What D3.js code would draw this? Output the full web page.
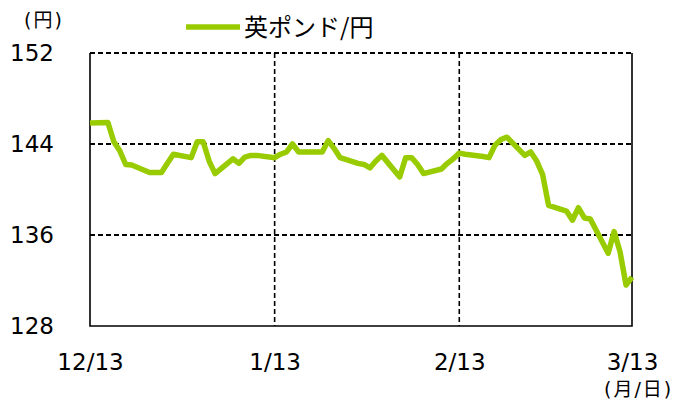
<!DOCTYPE html>
<html>
<head>
<meta charset="utf-8">
<script src="https://cdn.jsdelivr.net/npm/d3@7"></script>
<style>
  body { margin: 0; background: #fff; }
  svg text { font-family: "DejaVu Sans", Verdana, sans-serif; fill: #000; }
  .jp { font-family: "Noto Sans CJK JP", sans-serif; }
  .lat { font-family: "DejaVu Sans", sans-serif; }
</style>
</head>
<body>
<svg id="chart" width="690" height="400"></svg>
<script>
// Data: GBP/JPY daily close
const dates = [
  "2019-12-13","2019-12-16","2019-12-17","2019-12-18","2019-12-19","2019-12-20",
  "2019-12-23","2019-12-24","2019-12-25","2019-12-26","2019-12-27",
  "2019-12-30","2019-12-31","2020-01-01","2020-01-02","2020-01-03",
  "2020-01-06","2020-01-07","2020-01-08","2020-01-09","2020-01-10",
  "2020-01-13","2020-01-14","2020-01-15","2020-01-16","2020-01-17",
  "2020-01-20","2020-01-21","2020-01-22","2020-01-23","2020-01-24",
  "2020-01-27","2020-01-28","2020-01-29","2020-01-30","2020-01-31",
  "2020-02-03","2020-02-04","2020-02-05","2020-02-06","2020-02-07",
  "2020-02-10","2020-02-11","2020-02-12","2020-02-13","2020-02-14",
  "2020-02-17","2020-02-18","2020-02-19","2020-02-20","2020-02-21",
  "2020-02-24","2020-02-25","2020-02-26","2020-02-27","2020-02-28",
  "2020-03-02","2020-03-03","2020-03-04","2020-03-05","2020-03-06",
  "2020-03-09","2020-03-10","2020-03-11","2020-03-12","2020-03-13"
];
const gbpJpy = [
  145.85, 145.9, 144.2, 143.4, 142.2, 142.15,
  141.5, 141.5, 141.5, 142.3, 143.1,
  142.8, 144.2, 144.2, 142.5, 141.4,
  142.7, 142.3, 142.85, 143.0, 143.0,
  142.8, 143.1, 143.3, 144.0, 143.3,
  143.3, 143.3, 144.3, 143.6, 142.8,
  142.3, 142.2, 141.9, 142.5, 143.0,
  141.1, 142.8, 142.8, 142.2, 141.4,
  141.8, 142.3, 142.7, 143.2, 143.1,
  142.9, 142.8, 143.9, 144.4, 144.6,
  143.0, 143.3, 142.5, 141.3, 138.6,
  138.1, 137.3, 138.4, 137.5, 137.4,
  134.4, 136.3, 134.5, 131.6, 132.3
];
const yTicks = [128, 136, 144, 152];
const xTickDates = ["2019-12-13", "2020-01-13", "2020-02-13", "2020-03-13"];
const xTickLabels = ["12/13", "1/13", "2/13", "3/13"];
const seriesName = "英ポンド/円";

const parseDate = d3.timeParse("%Y-%m-%d");
const data = dates.map((d, i) => ({ date: parseDate(d), value: gbpJpy[i] }));

const svg = d3.select("#chart");
const margin = { left: 90, right: 58, top: 53, bottom: 74 };
const width = 690, height = 400;
const innerW = width - margin.left - margin.right;
const innerH = height - margin.top - margin.bottom;

const x = d3.scaleTime()
  .domain([parseDate(xTickDates[0]), parseDate(xTickDates[3])])
  .range([0, innerW]);
const y = d3.scaleLinear().domain([128, 152]).range([innerH, 0]);

const g = svg.append("g").attr("transform", `translate(${margin.left},${margin.top})`);

// dashed grid lines
g.selectAll(".hgrid").data([136, 144, 152]).enter().append("line")
  .attr("x1", 0).attr("x2", innerW)
  .attr("y1", d => y(d)).attr("y2", d => y(d))
  .attr("stroke", "#000").attr("stroke-width", 1.8).attr("stroke-dasharray", "5,3");
g.selectAll(".vgrid").data(xTickDates.slice(1, 3)).enter().append("line")
  .attr("x1", d => x(parseDate(d))).attr("x2", d => x(parseDate(d)))
  .attr("y1", 0).attr("y2", innerH)
  .attr("stroke", "#000").attr("stroke-width", 1.6).attr("stroke-dasharray", "5,3");

// solid frame: left, bottom, right
g.append("path")
  .attr("d", `M0,0V${innerH}H${innerW}V0`)
  .attr("fill", "none").attr("stroke", "#000").attr("stroke-width", 1.6);

// y axis labels
const yAxis = d3.axisLeft(y).tickValues(yTicks).tickSize(0).tickPadding(36);
const gy = g.append("g").call(yAxis);
gy.select(".domain").remove();
gy.selectAll("text").style("font-size", "23px").style("font-family", "DejaVu Sans");

// x axis labels
const xAxis = d3.axisBottom(x)
  .tickValues(xTickDates.map(parseDate))
  .tickFormat((d, i) => xTickLabels[i])
  .tickSize(0).tickPadding(28);
const gx = g.append("g").attr("transform", `translate(0,${innerH})`).call(xAxis);
gx.select(".domain").remove();
gx.selectAll("text").style("font-size", "23px").style("font-family", "DejaVu Sans");

// series line
g.append("path")
  .datum(data)
  .attr("fill", "none")
  .attr("stroke", "#99cc00")
  .attr("stroke-width", 5.5)
  .attr("stroke-linejoin", "round")
  .attr("d", d3.line().x(d => x(d.date)).y(d => y(d.value)));

// unit labels: parens in a latin font, kanji in CJK font
function unitLabel(px, py, parts) {
  const t = svg.append("text").attr("x", px).attr("y", py)
    .style("font-size", "19px").style("letter-spacing", "2px");
  parts.forEach(p => t.append("tspan").attr("class", p[1]).text(p[0]));
}
unitLabel(24, 27, [["(", "lat"], ["円", "jp"], [")", "lat"]]);
unitLabel(604, 396, [["(", "lat"], ["月", "jp"], ["/", "lat"], ["日", "jp"], [")", "lat"]]);

// legend
svg.append("line").attr("x1", 186).attr("x2", 240).attr("y1", 27).attr("y2", 27)
  .attr("stroke", "#99cc00").attr("stroke-width", 5.5);
svg.append("text").attr("class", "jp").attr("x", 244).attr("y", 36)
  .style("font-size", "24px").text(seriesName);
</script>
</body>
</html>
